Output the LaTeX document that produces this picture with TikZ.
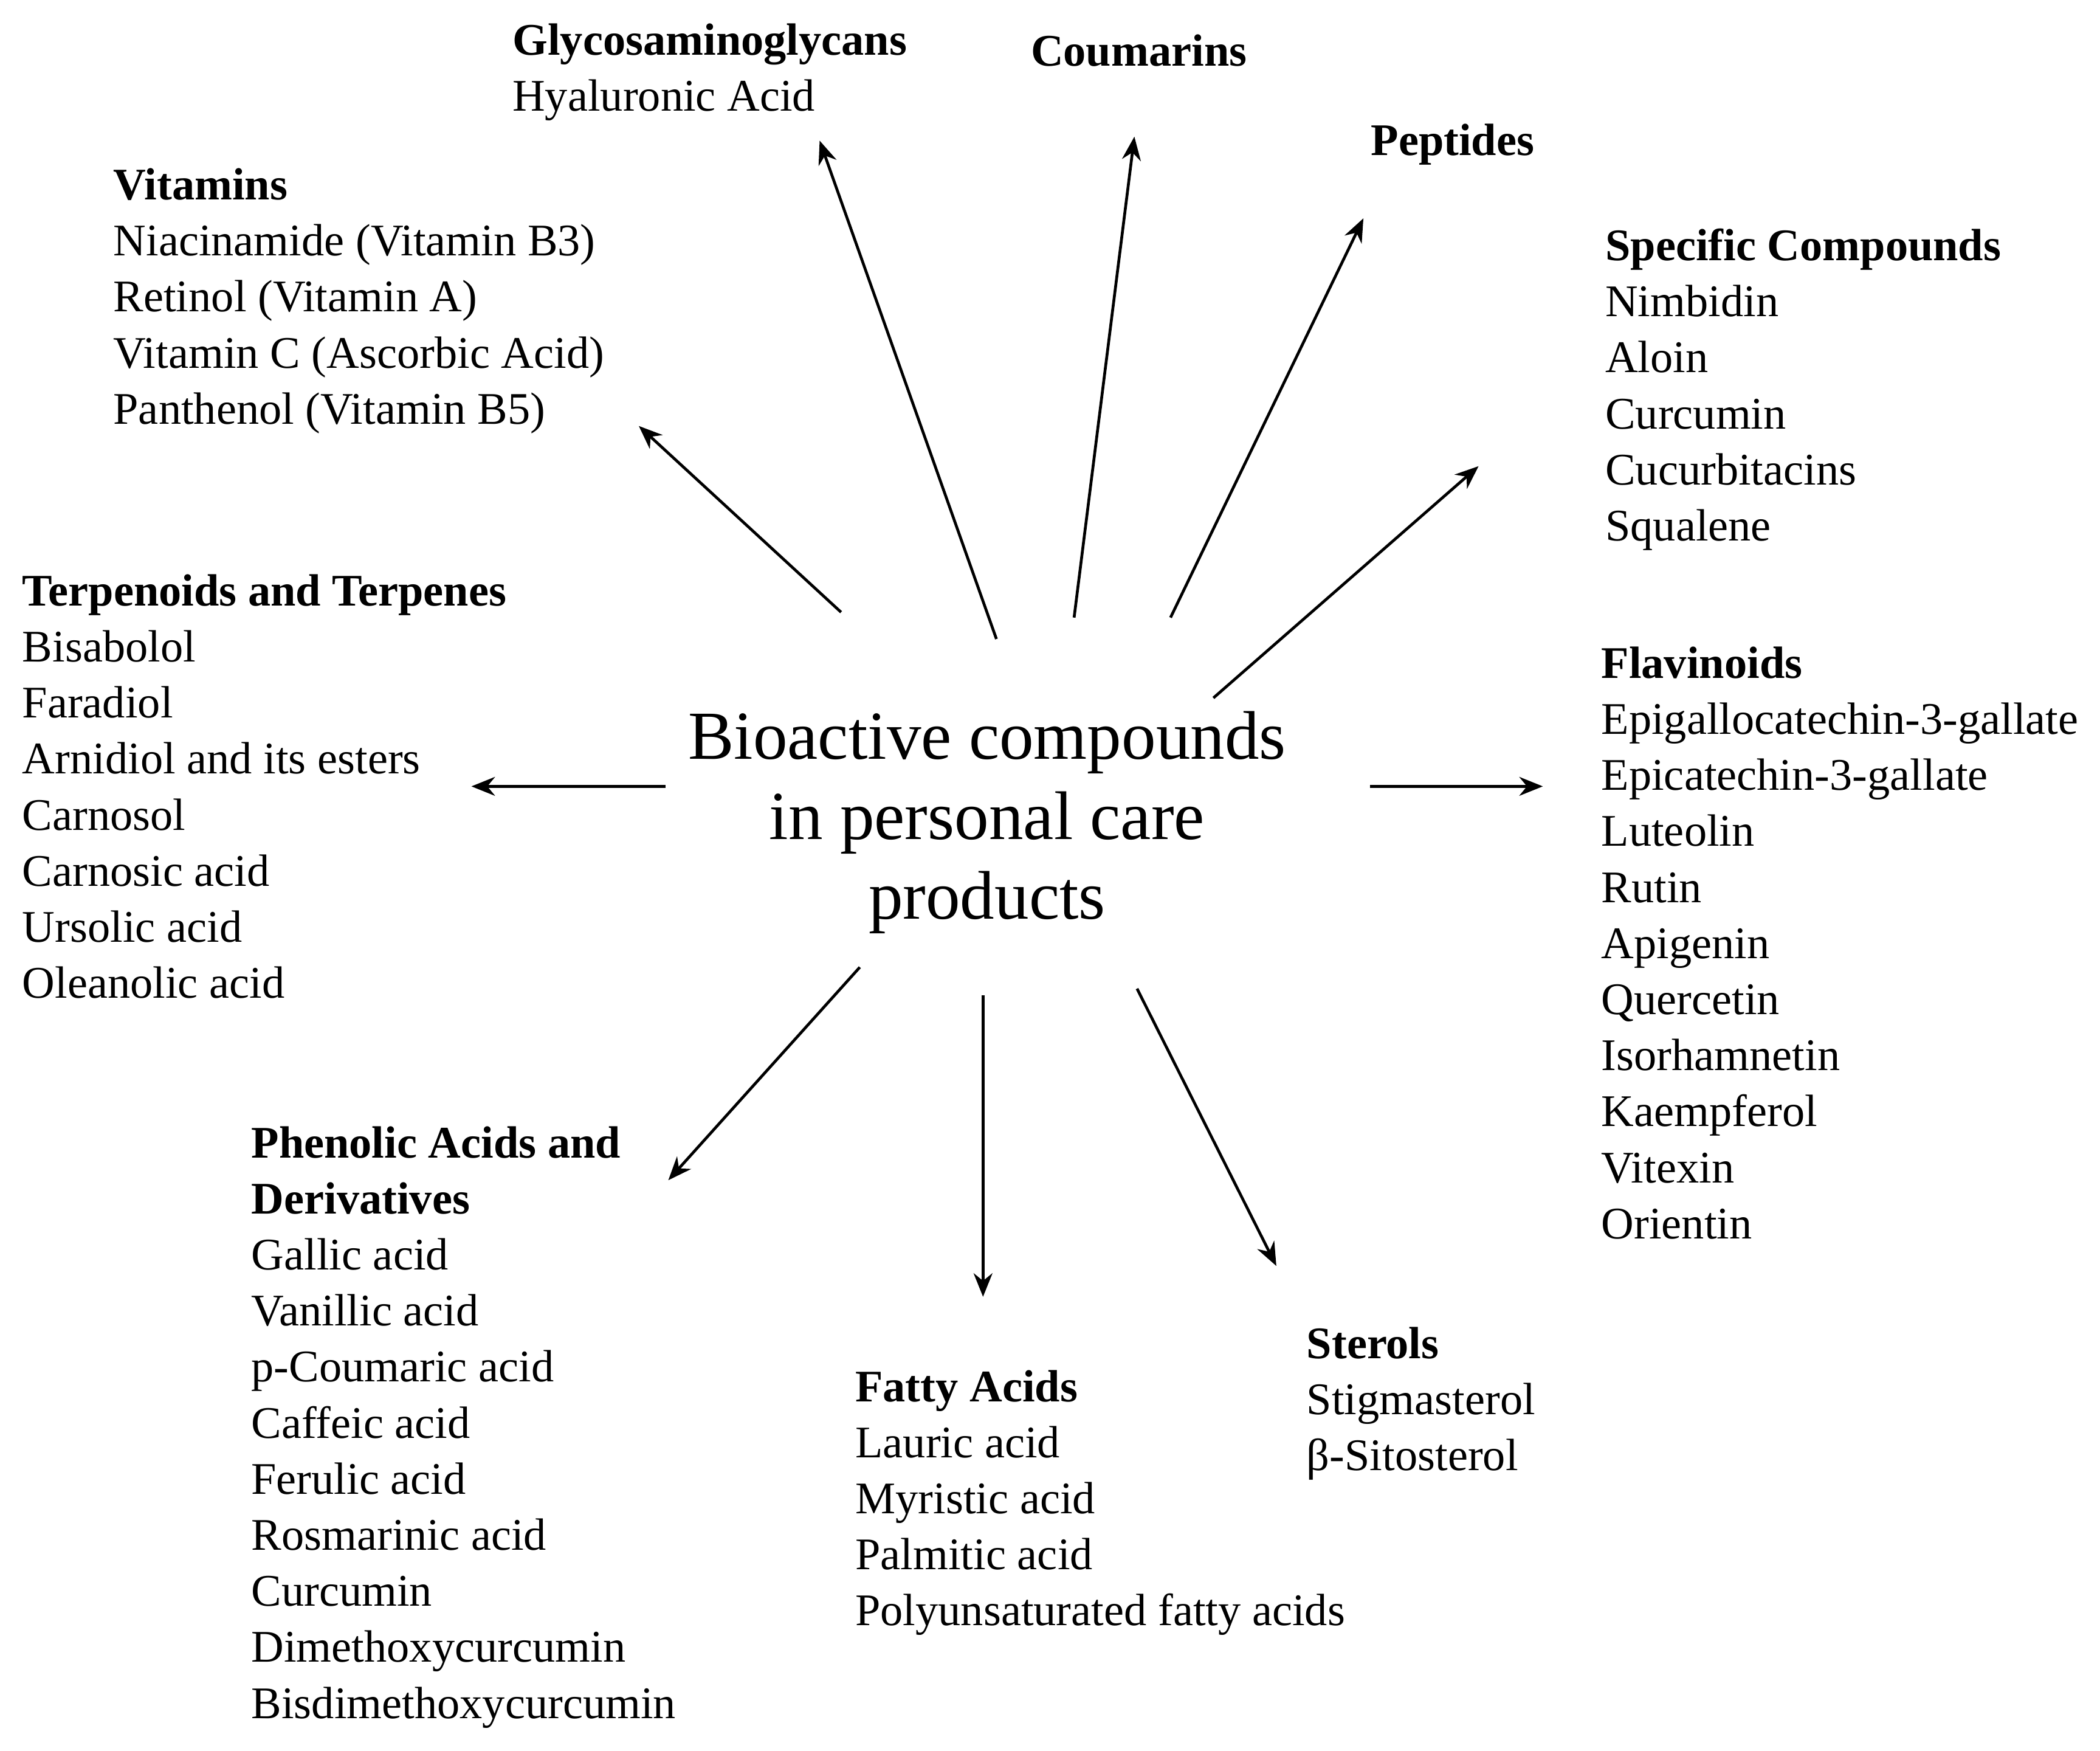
\documentclass[tikz,border=0pt]{standalone}
\usepackage{fontspec}
\setmainfont{Liberation Serif}
\usetikzlibrary{arrows.meta}
\begin{document}
\begin{tikzpicture}[x=0.01cm,y=-0.01cm,
  blk/.style={anchor=north west,inner sep=0pt,align=left,font=\fontsize{9.6}{11.9}\selectfont},
  arr/.style={-{Stealth[length=5pt,width=4pt]},line width=0.6pt}]
\useasboundingbox (0,0) rectangle (1568,1307);
\node[inner sep=0pt,align=center,font=\fontsize{14.6}{17}\selectfont] (c) at (737,614) {Bioactive compounds\\in personal care\\products};
\node[blk] (gly) at (382,17) {\textbf{Glycosaminoglycans}\\Hyaluronic Acid};
\node[blk] (cou) at (769,25) {\textbf{Coumarins}};
\node[blk] (pep) at (1023,92) {\textbf{Peptides}};
\node[blk] (vit) at (84,125) {\textbf{Vitamins}\\Niacinamide (Vitamin B3)\\Retinol (Vitamin A)\\Vitamin C (Ascorbic Acid)\\Panthenol (Vitamin B5)};
\node[blk] (spe) at (1198,170) {\textbf{Specific Compounds}\\Nimbidin\\Aloin\\Curcumin\\Cucurbitacins\\Squalene};
\node[blk] (ter) at (16,428) {\textbf{Terpenoids and Terpenes}\\Bisabolol\\Faradiol\\Arnidiol and its esters\\Carnosol\\Carnosic acid\\Ursolic acid\\Oleanolic acid};
\node[blk] (fla) at (1195,482) {\textbf{Flavinoids}\\Epigallocatechin-3-gallate\\Epicatechin-3-gallate\\Luteolin\\Rutin\\Apigenin\\Quercetin\\Isorhamnetin\\Kaempferol\\Vitexin\\Orientin};
\node[blk] (phe) at (187,840) {\textbf{Phenolic Acids and}\\\textbf{Derivatives}\\Gallic acid\\Vanillic acid\\p-Coumaric acid\\Caffeic acid\\Ferulic acid\\Rosmarinic acid\\Curcumin\\Dimethoxycurcumin\\Bisdimethoxycurcumin};
\node[blk] (ste) at (975,990) {\textbf{Sterols}\\Stigmasterol\\β-Sitosterol};
\node[blk] (fat) at (638,1022) {\textbf{Fatty Acids}\\Lauric acid\\Myristic acid\\Palmitic acid\\Polyunsaturated fatty acids};
\foreach \n/\a/\b/\c/\d in {vit/628/457/477/318, gly/744/477/612/105, cou/802/461/847/102, pep/874/461/1018/163, spe/906/521/1104/348, ter/497/587/352/587, fla/1023/587/1152/587, phe/642/722/499/881, fat/734/743/734/968, ste/849/738/953/945}{
  \coordinate (s\n) at (\a,\b);
  \coordinate (e\n) at (\c,\d);
  \draw[arr] (s\n) -- (e\n);
}
\end{tikzpicture}
\end{document}
